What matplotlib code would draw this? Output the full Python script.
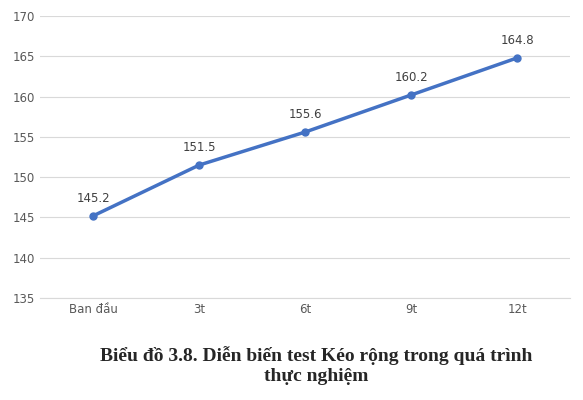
import matplotlib.pyplot as plt

categories = ['Ban đầu', '3t', '6t', '9t', '12t']
values = [145.2, 151.5, 155.6, 160.2, 164.8]
yticks = [135, 140, 145, 150, 155, 160, 165, 170]

fig = plt.figure(figsize=(5.83, 4.0), dpi=100)
ax = fig.add_axes([0.069, 0.255, 0.909, 0.705])

x = range(len(categories))
ax.plot(x, values, color='#4472C4', linewidth=2.5, marker='o', markersize=5)
for xi, v in zip(x, values):
    ax.annotate(f'{v:.1f}', (xi, v), xytext=(0, 8), textcoords='offset points',
                ha='center', va='bottom', fontsize=8.5, color='#404040')

ax.set_xlim(-0.5, len(categories) - 0.5)
ax.set_ylim(135, 170)
ax.set_yticks(yticks)
ax.set_xticks(list(x))
ax.set_xticklabels(categories)
ax.tick_params(axis='both', length=0, labelsize=8.5, colors='#595959')
ax.grid(axis='y', color='#D9D9D9', linewidth=0.8)
ax.set_axisbelow(True)
for s in ['top', 'right', 'left']:
    ax.spines[s].set_visible(False)
ax.spines['bottom'].set_color('#D9D9D9')

fig.text(0.543, 0.087, 'Biểu đồ 3.8. Diễn biến test Kéo rộng trong quá trình\nthực nghiệm',
         ha='center', va='center', fontsize=14, fontweight='bold',
         family='Liberation Serif', color='#262626', linespacing=1.25)

fig.savefig('out.png', dpi=100)
